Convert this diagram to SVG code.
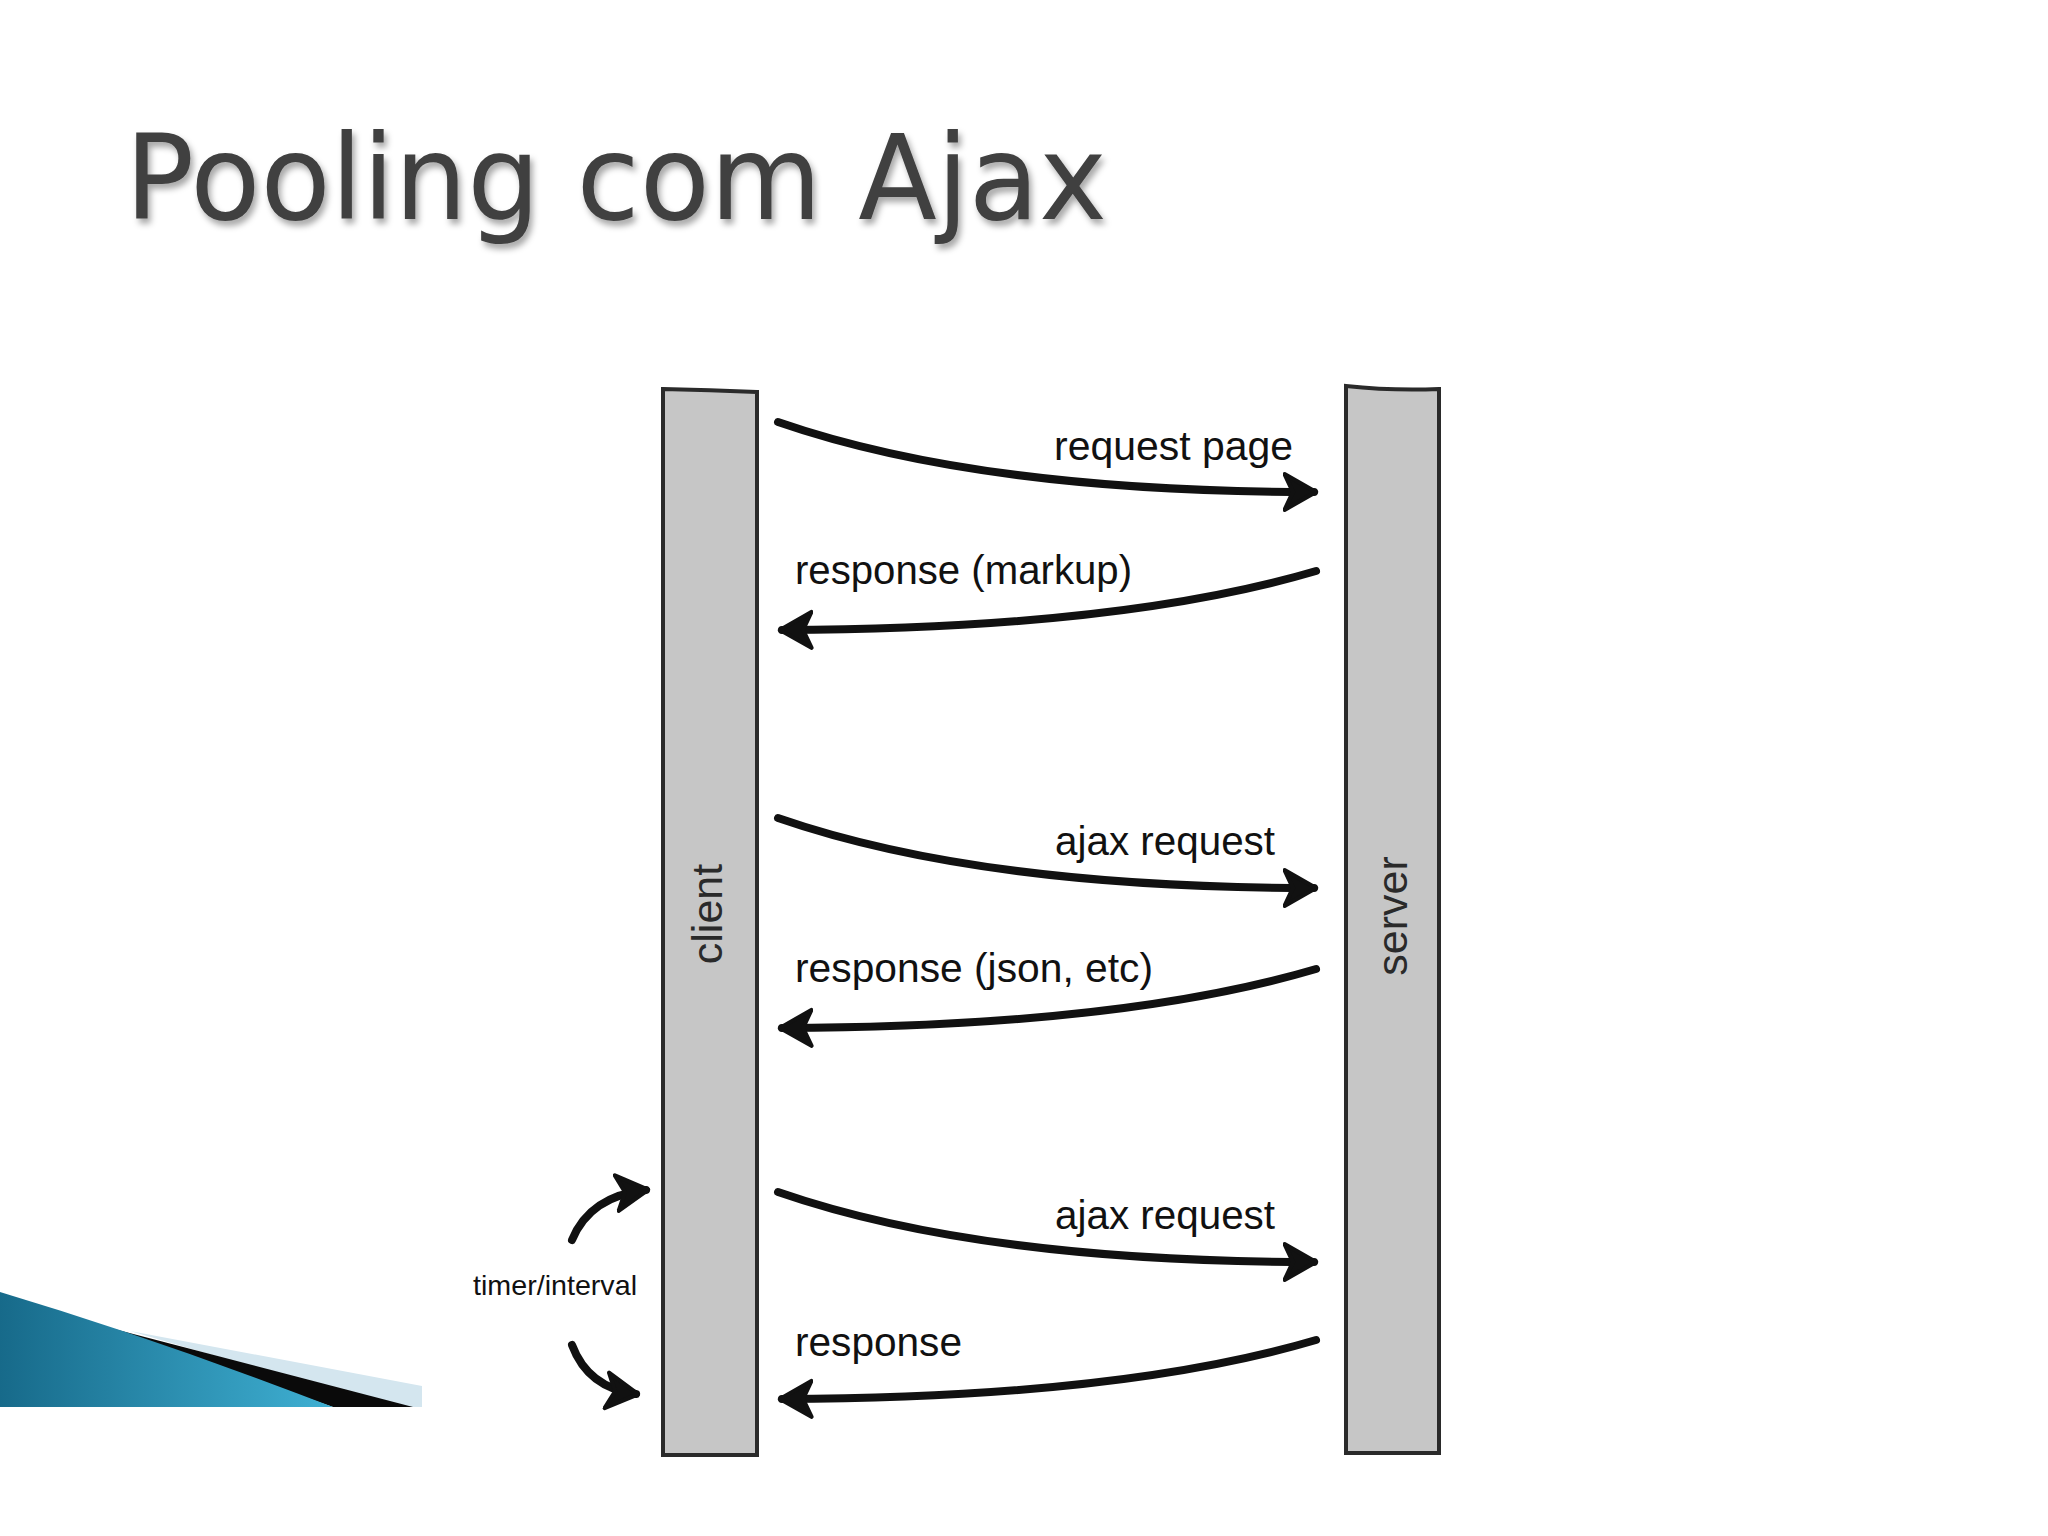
<svg xmlns="http://www.w3.org/2000/svg" width="2048" height="1536" viewBox="0 0 2048 1536">
<defs>
<style>
.bar{fill:#c6c6c6;stroke:#2a2a2a;stroke-width:4}
.lbl{font-family:"Liberation Sans",Arial,sans-serif;font-size:41px;fill:#111}
.vlbl{font-family:"Liberation Sans",Arial,sans-serif;font-size:43px;fill:#2a2a2a}
.arr{fill:none;stroke:#111;stroke-width:8;stroke-linecap:round;marker-end:url(#ah)}
.title{font-family:"DejaVu Sans",Verdana,sans-serif;font-size:118px;fill:#404040}
</style>
<marker id="ah" markerUnits="userSpaceOnUse" markerWidth="42" markerHeight="42" viewBox="0 0 40 40" refX="30" refY="20" orient="auto">
<path d="M2,3 L32,20 L2,37 L10,20 Z" fill="#111" stroke="#111" stroke-width="4" stroke-linejoin="round"/>
</marker>
<filter id="sh" x="-5%" y="-20%" width="110%" height="140%">
<feDropShadow dx="3" dy="5" stdDeviation="3" flood-color="#000" flood-opacity="0.35"/>
</filter>
<linearGradient id="bg" x1="0" y1="0" x2="1" y2="0">
<stop offset="0" stop-color="#176a8a"/>
<stop offset="1" stop-color="#3fb0d3"/>
</linearGradient>
</defs>
<rect width="2048" height="1536" fill="#fff"/>
<g id="title">
<text class="title" x="125" y="219" textLength="982" lengthAdjust="spacingAndGlyphs" filter="url(#sh)">Pooling com Ajax</text>
</g>
<g id="decoration">
<polygon points="130,1331 422,1386 422,1407 390,1407" fill="#d4e6ef"/>
<polygon points="95,1324 413,1407 333,1407" fill="#0a0a0a"/>
<path d="M0,1292 Q160,1340 333,1407 L0,1407 Z" fill="url(#bg)"/>
</g>
<g id="client">
<path class="bar" d="M663,389 Q710,390 757,392 L757,1455 L663,1455 Z"/>
<text class="vlbl" transform="translate(722,914) rotate(-90)" text-anchor="middle">client</text>
</g>
<g id="server">
<path class="bar" d="M1346,386 Q1392,391 1439,389 L1439,1453 L1346,1453 Z"/>
<text class="vlbl" transform="translate(1407,916) rotate(-90)" text-anchor="middle">server</text>
</g>
<g id="connectors">
<path class="arr" d="M778,422 Q980,492 1314,492"/>
<path class="arr" d="M1316,571 Q1120,629 782,630"/>
<path class="arr" d="M778,818 Q980,888 1314,888"/>
<path class="arr" d="M1316,969 Q1120,1027 782,1028"/>
<path class="arr" d="M778,1192 Q980,1262 1314,1262"/>
<path class="arr" d="M1316,1340 Q1120,1398 782,1399"/>
<path class="arr" d="M572,1240 Q590,1196 646,1190"/>
<path class="arr" d="M572,1345 Q588,1388 636,1394"/>
</g>
<g id="labels">
<text class="lbl" x="1054" y="460" textLength="239" lengthAdjust="spacingAndGlyphs">request page</text>
<text class="lbl" x="795" y="584" textLength="337" lengthAdjust="spacingAndGlyphs">response (markup)</text>
<text class="lbl" x="1055" y="855" textLength="220" lengthAdjust="spacingAndGlyphs">ajax request</text>
<text class="lbl" x="795" y="982" textLength="358" lengthAdjust="spacingAndGlyphs">response (json, etc)</text>
<text class="lbl" x="1055" y="1229" textLength="220" lengthAdjust="spacingAndGlyphs">ajax request</text>
<text class="lbl" x="795" y="1356" textLength="167" lengthAdjust="spacingAndGlyphs">response</text>
<text class="lbl" x="473" y="1295" style="font-size:28px" textLength="164" lengthAdjust="spacingAndGlyphs">timer/interval</text>
</g>
</svg>
